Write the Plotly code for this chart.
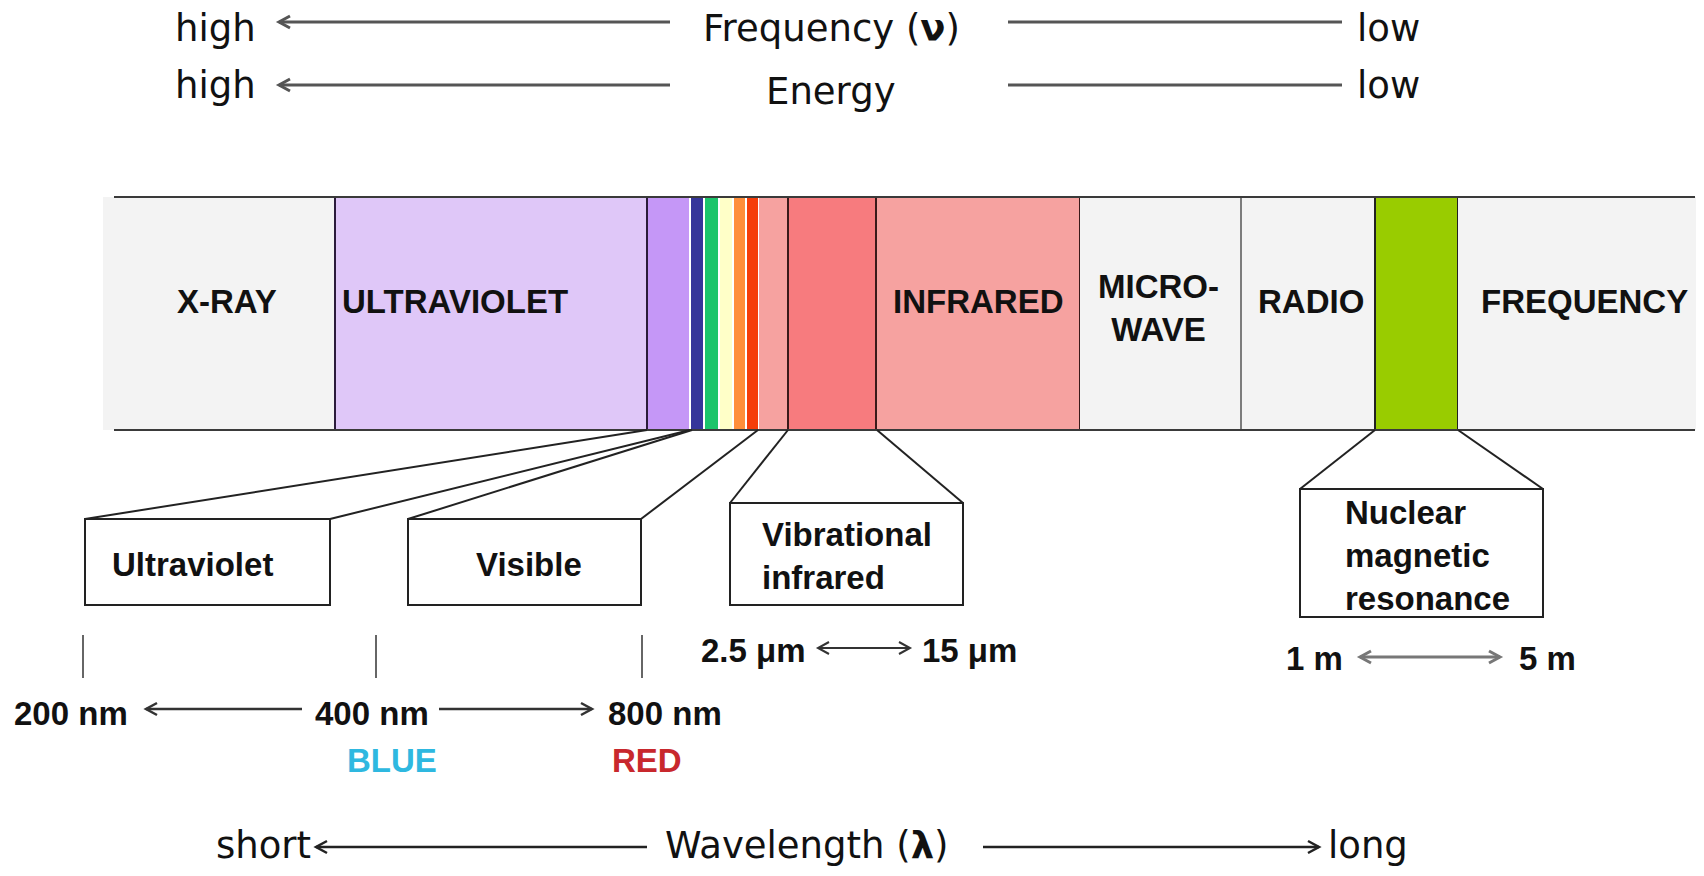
import plotly.graph_objects as go

W, H = 1704, 876
PAD = 8  # page body margin, so that diagram units = page pixels

# ---- electromagnetic band (diagram units = page pixels) ----
band_edges = [103, 335, 647, 690, 704, 719, 733, 746, 759, 788, 876, 1080, 1241, 1375, 1458, 1704]
band_fill = ["#f3f3f3", "#dfc7f8", "#c597f7", "#35359a", "#1bc46c", "#ffffc8", "#ff8e3a",
             "#f53d0a", "#f6a2a0", "#f77b7e", "#f6a2a0", "#f3f3f3", "#f3f3f3", "#99cc00", "#f3f3f3"]
band_line = [None, "#2b1b3b", "#2b1b3b", "white", "white", "white", "white",
             "white", None, "#3a1a1a", "#3a1a1a", None, None, "#222222", None]
band_top, band_bottom = 197, 430
separators = [1241]

band_labels = ["X-RAY", "ULTRAVIOLET", "INFRARED", "MICRO-<br>WAVE", "RADIO", "FREQUENCY"]
band_label_x = [227, 455, 978, 1158, 1311, 1584]
band_label_y = [301, 301, 301, 308, 301, 301]

# ---- detail boxes under the band ----
box_text = ["Ultraviolet", "Visible", "Vibrational<br>infrared", "Nuclear<br>magnetic<br>resonance"]
box_x0 = [85, 408, 730, 1300]
box_x1 = [330, 641, 963, 1543]
box_y0 = [519, 519, 503, 489]
box_y1 = [605, 605, 605, 617]
box_src = [(647, 690), (692, 758), (788, 877), (1375, 1458)]
box_label_x = [192, 529, 760, 1343]
box_align = ["center", "center", "left", "left"]

# ---- wavelength scales ----
nm_labels = ["200 nm", "400 nm", "800 nm"]
nm_x = [71, 372, 665]
tick_x = [83, 376, 642]
colour_words = ["BLUE", "RED"]
colour_x = [392, 647]
colour_col = ["#2eb8e0", "#c8282d"]

ir_labels = ["2.5 \u03bcm", "15 \u03bcm"]
ir_x = [753, 969]
nmr_labels = ["1 m", "5 m"]
nmr_x = [1314, 1547]

fig = go.Figure()
fig.add_trace(go.Scatter(x=[PAD, W - PAD], y=[PAD, H - PAD], mode="markers",
                         marker=dict(opacity=0), hoverinfo="skip"))

shapes = []
ann = []


def chevron(x, y, direction, size=11, half=6, color="#333", width=2.5):
    d = size if direction == "left" else -size
    shapes.append(dict(type="path", path=f"M {x + d},{y - half} L {x},{y} L {x + d},{y + half}",
                       line=dict(color=color, width=width)))


def arrow(x0, x1, y, heads, color="#333", width=2.5):
    shapes.append(dict(type="line", x0=x0, x1=x1, y0=y, y1=y, line=dict(color=color, width=width)))
    if "left" in heads:
        chevron(min(x0, x1), y, "left", color=color, width=width)
    if "right" in heads:
        chevron(max(x0, x1), y, "right", color=color, width=width)


def text(s, x, y, size, family="DejaVu Sans", color="#111", bold=False, align="center", xanchor="center"):
    ann.append(dict(text=f"<b>{s}</b>" if bold else s, x=x, y=y, xref="x", yref="y", showarrow=False,
                    font=dict(family=family, size=size, color=color), align=align,
                    xanchor=xanchor, yanchor="middle"))


BOLD = 33
BIG = 37

# background of band
shapes.append(dict(type="rect", x0=band_edges[0], x1=W, y0=band_top, y1=band_bottom,
                   fillcolor="#f3f3f3", line=dict(width=0), layer="below"))
for i, c in enumerate(band_fill):
    lc = band_line[i]
    shapes.append(dict(type="rect", x0=band_edges[i], x1=band_edges[i + 1], y0=band_top, y1=band_bottom,
                       fillcolor=c, line=dict(color=lc or c, width=2 if lc else 0)))
for s in separators:
    shapes.append(dict(type="line", x0=s, x1=s, y0=band_top, y1=band_bottom, line=dict(color="#555", width=1.5)))
for yb in (band_top, band_bottom):
    shapes.append(dict(type="line", x0=114, x1=1695, y0=yb, y1=yb, line=dict(color="#3a3a3a", width=2)))

for lab, lx, ly in zip(band_labels, band_label_x, band_label_y):
    text(lab, lx, ly, BOLD, family="Liberation Sans", bold=True)

# detail boxes with projection lines
for i, t in enumerate(box_text):
    sx0, sx1 = box_src[i]
    shapes.append(dict(type="line", x0=box_x0[i], y0=box_y0[i], x1=sx0, y1=band_bottom,
                       line=dict(color="#222", width=2)))
    shapes.append(dict(type="line", x0=box_x1[i], y0=box_y0[i], x1=sx1, y1=band_bottom,
                       line=dict(color="#222", width=2)))
    shapes.append(dict(type="rect", x0=box_x0[i], x1=box_x1[i], y0=box_y0[i], y1=box_y1[i],
                       fillcolor="white", line=dict(color="#222", width=2)))
    cy = (box_y0[i] + box_y1[i]) / 2 + 2
    if box_align[i] == "center":
        text(t, box_label_x[i], cy, BOLD, family="Liberation Sans", bold=True)
    else:
        text(t, box_label_x[i], cy, BOLD, family="Liberation Sans", bold=True,
             align="left", xanchor="left")

# nm scale
for tx in tick_x:
    shapes.append(dict(type="line", x0=tx, x1=tx, y0=635, y1=678, line=dict(color="#333", width=1.5)))
for lab, lx in zip(nm_labels, nm_x):
    text(lab, lx, 713, BOLD, family="Liberation Sans", bold=True)
arrow(146, 302, 709, ["left"])
arrow(439, 592, 709, ["right"])
for w, wx, wc in zip(colour_words, colour_x, colour_col):
    text(w, wx, 760, BOLD, family="Liberation Sans", color=wc, bold=True)

# IR and NMR ranges
for lab, lx in zip(ir_labels, ir_x):
    text(lab, lx, 650, BOLD, family="Liberation Sans", bold=True)
arrow(818, 910, 648, ["left", "right"], width=2)
for lab, lx in zip(nmr_labels, nmr_x):
    text(lab, lx, 658, BOLD, family="Liberation Sans", bold=True)
arrow(1360, 1500, 657, ["left", "right"], color="#777", width=3)

# frequency / energy / wavelength rows
for yt, ya, mid, midy in [(28, 22, "Frequency (<b>\u03bd</b>)", 28), (85, 85, "Energy", 91)]:
    text("high", 215, yt, BIG)
    arrow(279, 670, ya, ["left"], color="#555", width=3)
    text(mid, 831, midy, BIG)
    shapes.append(dict(type="line", x0=1008, x1=1342, y0=ya, y1=ya, line=dict(color="#555", width=3)))
    text("low", 1388, yt, BIG)

text("short", 263, 845, BIG)
arrow(316, 647, 847, ["left"], color="#222", width=2.5)
text("Wavelength (<b>\u03bb</b>)", 807, 845, BIG)
arrow(983, 1319, 847, ["right"], color="#222", width=2.5)
text("long", 1368, 845, BIG)

fig.update_layout(
    width=W - 2 * PAD, height=H - 2 * PAD,
    margin=dict(l=0, r=0, t=0, b=0),
    paper_bgcolor="white", plot_bgcolor="white",
    showlegend=False,
    xaxis=dict(range=[PAD, W - PAD], visible=False, fixedrange=True),
    yaxis=dict(range=[H - PAD, PAD], visible=False, fixedrange=True),
    shapes=shapes, annotations=ann,
)

fig.write_html("out.html")
